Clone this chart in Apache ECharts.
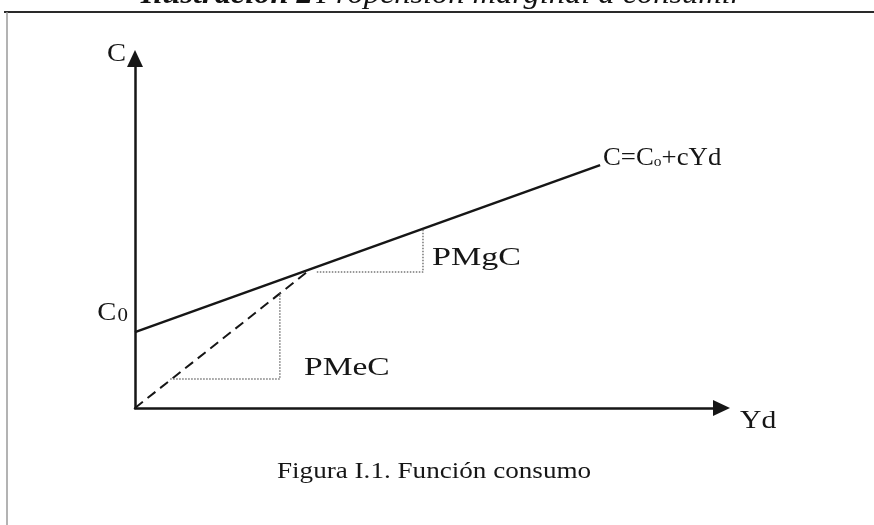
<!DOCTYPE html>
<html><head><meta charset="utf-8">
<script src="https://cdn.jsdelivr.net/npm/echarts@6/dist/echarts.min.js"></script>
<style>html,body{margin:0;padding:0;background:#fff}#c{width:874px;height:525px}</style>
</head><body><div id="c"></div>
<script>
// ---- data (Yd on x, C on y; arbitrary units 0..100)
const titleBold = 'Ilustración 2';
const titleRest = 'Propensión marginal a consumir';
const captionText = 'Figura I.1. Función consumo';
const xName = 'Yd';
const yName = 'C';
const consumoLine = [[0, 21.7], [79.3, 69.5]];          // C = C0 + cYd
const pmecRay = [[0, 0], [30, 39.8]];                   // dashed ray from origin
const pmgcGuide = [[31, 38.9], [49.1, 38.9], [49.1, 51.3]];
const pmecGuide = [[6, 8.3], [24.7, 8.3], [24.7, 32.8]];
const lblEq = '{n|C=C}{s|o}{n|+cYd}';
const lblPMgC = 'PMgC';
const lblPMeC = 'PMeC';
const lblC0 = '{n|C}{t|0}';

const FONT = '"Liberation Serif", "DejaVu Serif", serif';
const INK = '#161616';
const chart = echarts.init(document.getElementById('c'), null, {renderer: 'canvas'});

function txt(x, y, text, opt) {
  opt = opt || {};
  return {
    type: 'text', x: x, y: y, scaleX: opt.sx || 1,
    style: {
      x: 0, y: 0, text: text,
      fill: opt.fill || INK,
      fontFamily: FONT,
      fontSize: opt.size || 26,
      fontStyle: opt.style || 'normal',
      fontWeight: opt.weight || 'normal',
      align: opt.align || 'left',
      verticalAlign: opt.va || 'middle',
      rich: opt.rich
    }
  };
}
const richSub = {
  n: {fontFamily: FONT, fontSize: 26, fill: INK},
  s: {fontFamily: FONT, fontSize: 15, fill: INK, padding: [9, 0, 0, 0]},
  t: {fontFamily: FONT, fontSize: 19, fill: INK, padding: [6, 0, 0, 1]}
};

const option = {
  animation: false,
  backgroundColor: '#fff',
  grid: {left: 135, top: 58.5, width: 586.5, height: 349.5, containLabel: false},
  xAxis: {
    type: 'value', min: 0, max: 100,
    axisLine: {show: true, symbol: ['none', 'triangle'], symbolSize: [16, 17],
      lineStyle: {color: INK, width: 2.5}},
    axisTick: {show: false}, axisLabel: {show: false}, splitLine: {show: false}
  },
  yAxis: {
    type: 'value', min: 0, max: 100,
    axisLine: {show: true, symbol: ['none', 'triangle'], symbolSize: [16, 17],
      lineStyle: {color: INK, width: 2.5}},
    axisTick: {show: false}, axisLabel: {show: false}, splitLine: {show: false}
  },
  series: [
    {type: 'line', data: consumoLine, showSymbol: false, symbol: 'none',
      lineStyle: {color: INK, width: 2.5}},
    {type: 'line', data: pmecRay, showSymbol: false, symbol: 'none',
      lineStyle: {color: INK, width: 2, type: [10, 6]}},
    {type: 'line', data: pmgcGuide, showSymbol: false, symbol: 'none',
      lineStyle: {color: '#777', width: 1.5, type: [1.5, 1.5]}},
    {type: 'line', data: pmecGuide, showSymbol: false, symbol: 'none',
      lineStyle: {color: '#777', width: 1.5, type: [1.5, 1.5]}}
  ],
  graphic: [
    {type: 'line', shape: {x1: 4, y1: 12, x2: 874, y2: 12}, style: {stroke: '#2a2a2a', lineWidth: 2}},
    {type: 'line', shape: {x1: 7, y1: 12, x2: 7, y2: 525}, style: {stroke: '#9a9a9a', lineWidth: 1.5}},
    {type: 'text', x: 442, y: -5, scaleX: 1.08, style: {
      text: '{b|' + titleBold + '} {i|' + titleRest + '}', align: 'center', verticalAlign: 'middle',
      rich: {
        b: {fontFamily: FONT, fontSize: 30, fontStyle: 'italic', fontWeight: 'bold', fill: '#111'},
        i: {fontFamily: FONT, fontSize: 30, fontStyle: 'italic', fill: '#111'}
      }}},
    txt(126, 54, yName, {align: 'right', sx: 1.1}),
    txt(740, 421, xName, {sx: 1.14}),
    txt(128, 313, lblC0, {align: 'right', rich: richSub, sx: 1.1}),
    txt(603, 158, lblEq, {rich: richSub, sx: 1.03}),
    txt(432, 258, lblPMgC, {sx: 1.31}),
    txt(304, 368, lblPMeC, {sx: 1.29}),
    txt(277, 472, captionText, {size: 24, sx: 1.13})
  ]
};
chart.setOption(option);
</script></body></html>
